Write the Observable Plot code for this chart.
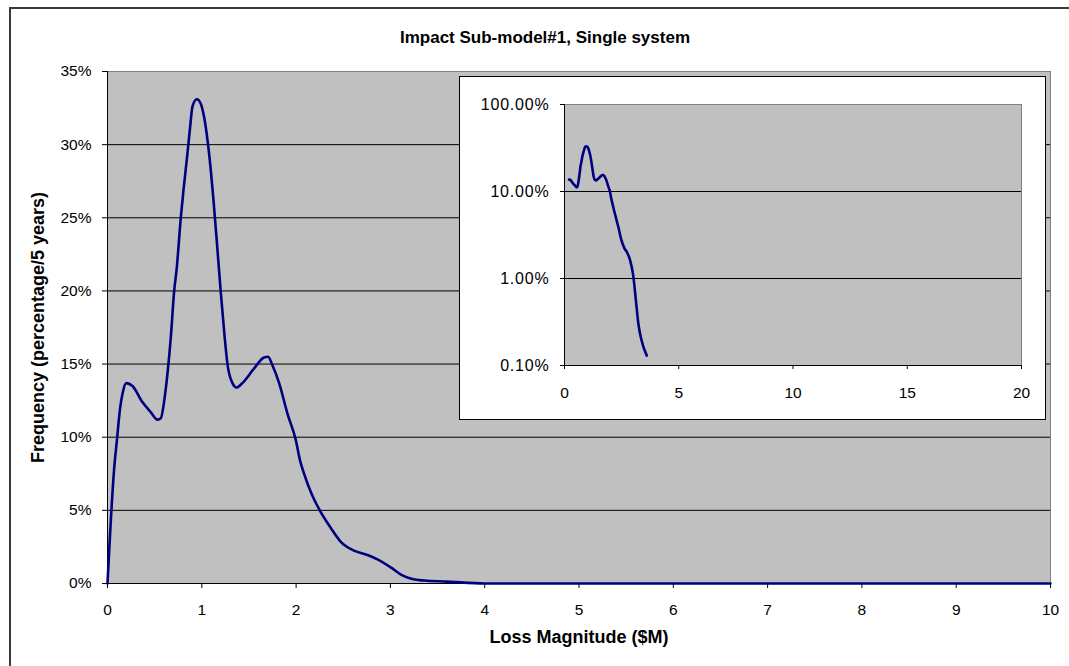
<!DOCTYPE html>
<html>
<head>
<meta charset="utf-8">
<script src="https://cdn.jsdelivr.net/npm/d3@7"></script>
<script src="https://cdn.jsdelivr.net/npm/@observablehq/plot@0.6"></script>
<style>
  html, body { margin: 0; padding: 0; background: #fff; overflow: hidden; }
  #wrap { position: relative; width: 1069px; height: 666px; overflow: hidden; }
  #border { position: absolute; left: 0; top: 0; }
  #main { position: absolute; left: 0; top: 0; line-height: 0; }
  #inset { position: absolute; left: 460px; top: 77px; outline: 1.5px solid #000; background: #fff; line-height: 0; }
</style>
</head>
<body>
<div id="wrap">
  <svg id="border" width="1069" height="666"><path d="M10,666V8H1069" fill="none" stroke="#3a3a3a" stroke-width="2"/></svg>
  <div id="main"></div>
  <div id="inset"></div>
</div>
<script>
// ---- data ----
const titleText = ["Impact Sub-model#1, Single system"];
const xLabel = ["Loss Magnitude ($M)"];
const yLabel = ["Frequency (percentage/5 years)"];

const lossM = [0, 0.07, 0.1, 0.134, 0.16, 0.2, 0.265, 0.37, 0.46, 0.53, 0.565, 0.61, 0.64, 0.671, 0.707, 0.735, 0.777, 0.806, 0.848, 0.876, 0.901, 0.947, 0.989, 1.024, 1.077, 1.124, 1.159, 1.2, 1.243, 1.272, 1.325, 1.368, 1.43, 1.555, 1.66, 1.703, 1.75, 1.82, 1.909, 1.997, 2.042, 2.085, 2.173, 2.26, 2.368, 2.474, 2.615, 2.757, 2.863, 3.004, 3.128, 3.234, 3.36, 3.6, 4, 5, 6, 7, 8, 9, 10];
const freqPct = [0, 7.8, 9.8, 12.0, 13.0, 13.7, 13.5, 12.4, 11.7, 11.2, 11.3, 12.9, 14.6, 16.8, 20.0, 21.6, 25.0, 26.9, 29.4, 31.2, 32.6, 33.1, 32.8, 31.9, 29.4, 26.2, 23.4, 20.0, 16.8, 15.0, 13.7, 13.4, 13.7, 14.7, 15.45, 15.5, 14.9, 13.7, 11.6, 9.8, 8.4, 7.5, 6.0, 4.9, 3.8, 2.85, 2.25, 1.95, 1.65, 1.1, 0.55, 0.3, 0.2, 0.13, 0, 0, 0, 0, 0, 0, 0];

const mainXTicks = [0, 1, 2, 3, 4, 5, 6, 7, 8, 9, 10];
const mainYTicks = [0, 5, 10, 15, 20, 25, 30, 35];
const insetXTicks = [0, 5, 10, 15, 20];
const insetYTicks = [0.1, 1, 10, 100];

const rows = lossM.map((x, i) => ({x, y: freqPct[i]}));
const insetRows = rows.filter(d => d.x >= 0.2 && d.y >= 0.1);

const font = "'Liberation Sans', Arial, sans-serif";
const navy = "#000080";

// ---- main chart ----
const main = Plot.plot({
  width: 1069, height: 666,
  marginLeft: 107, marginRight: 19, marginTop: 71, marginBottom: 83,
  x: {domain: [0, 10]},
  y: {domain: [0, 35]},
  style: {fontFamily: font, fontSize: "15px", background: "transparent", color: "#000"},
  marks: [
    Plot.frame({fill: "#c0c0c0", stroke: "#808080"}),
    Plot.gridY(mainYTicks.filter(t => t > 0 && t < 35), {stroke: "#000", strokeOpacity: 1}),
    Plot.ruleX([0], {stroke: "#000"}),
    Plot.ruleY([0], {stroke: "#000"}),
    Plot.axisX(mainXTicks, {tickSize: 5, tickPadding: 15, label: null, stroke: "#000", fontSize: 15.5}),
    Plot.axisY(mainYTicks, {tickSize: 5, tickPadding: 11, label: null, stroke: "#000", fontSize: 15.5, tickFormat: d => d + "%"}),
    Plot.line(rows, {x: "x", y: "y", stroke: navy, strokeWidth: 2.6, curve: "monotone-x"}),
    Plot.text(titleText, {text: d => d, frameAnchor: "top", dy: -34, dx: -34, lineAnchor: "middle", fontWeight: "bold", fontSize: 17}),
    Plot.text(xLabel, {text: d => d, frameAnchor: "bottom", dy: 54, lineAnchor: "middle", fontWeight: "bold", fontSize: 18}),
    Plot.text(yLabel, {text: d => d, frameAnchor: "left", dx: -69, rotate: -90, textAnchor: "middle", lineAnchor: "middle", fontWeight: "bold", fontSize: 18})
  ]
});
document.getElementById("main").append(main);

// ---- inset chart (log scale) ----
const inset = Plot.plot({
  width: 585, height: 342,
  marginLeft: 104, marginRight: 24, marginTop: 27, marginBottom: 54,
  x: {domain: [0, 20]},
  y: {type: "log", domain: [0.1, 100]},
  style: {fontFamily: font, fontSize: "15px", background: "#fff", color: "#000"},
  marks: [
    Plot.frame({fill: "#c0c0c0", stroke: "#808080"}),
    Plot.gridY([1, 10], {stroke: "#000", strokeOpacity: 1}),
    Plot.ruleX([0], {stroke: "#000"}),
    Plot.ruleY([0.1], {stroke: "#000"}),
    Plot.axisX(insetXTicks, {tickSize: 4, tickPadding: 17, label: null, stroke: "#000", fontSize: 15.5}),
    Plot.axisY(insetYTicks, {tickSize: 4, tickPadding: 11, label: null, stroke: "#000", fontSize: 16, tickFormat: d => d.toFixed(2) + "%"}),
    Plot.line(insetRows, {x: "x", y: "y", stroke: navy, strokeWidth: 2.6, curve: "monotone-x"})
  ]
});
inset.querySelectorAll("g[aria-label='y-axis tick label'] text").forEach(t => t.setAttribute("letter-spacing", "0.8"));
document.getElementById("inset").append(inset);
</script>
</body>
</html>
